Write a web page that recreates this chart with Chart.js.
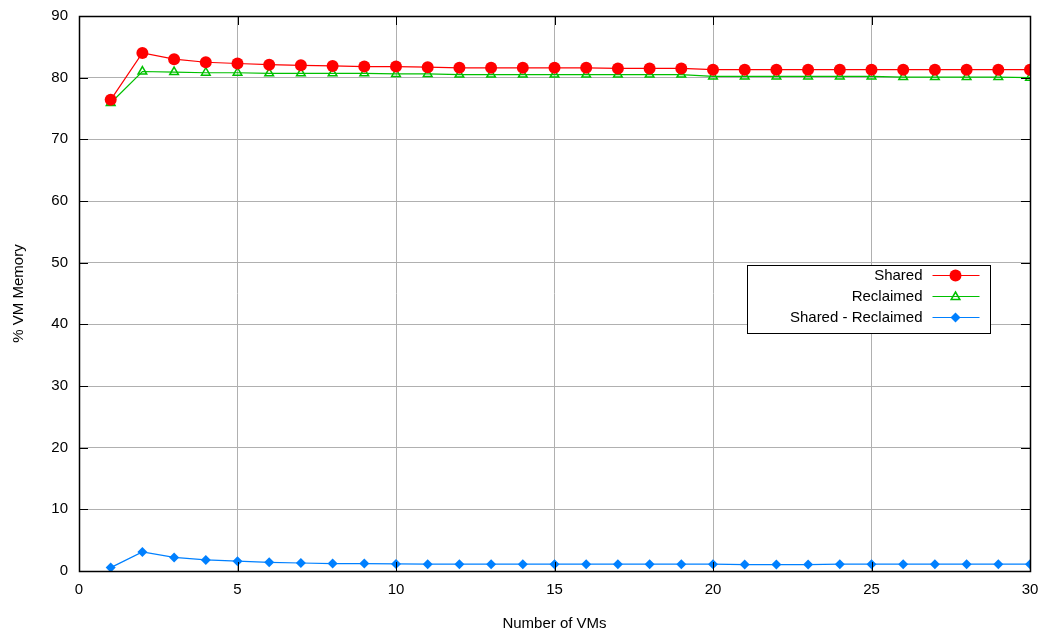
<!DOCTYPE html>
<html>
<head>
<meta charset="utf-8">
<script src="https://cdn.jsdelivr.net/npm/chart.js@4/dist/chart.umd.min.js"></script>
<style>
  html, body { margin: 0; padding: 0; background: #fff; }
  #wrap { width: 1046px; height: 633px; }
</style>
</head>
<body>
<div id="wrap"><canvas id="chart1"></canvas></div>
<script>
const vms = [1, 2, 3, 4, 5, 6, 7, 8, 9, 10, 11, 12, 13, 14, 15, 16, 17, 18, 19, 20, 21, 22, 23, 24, 25, 26, 27, 28, 29, 30];
const shared = [76.4, 84.0, 83.0, 82.5, 82.3, 82.1, 82.0, 81.9, 81.8, 81.8, 81.7, 81.6, 81.6, 81.6, 81.6, 81.6, 81.5, 81.5, 81.5, 81.3, 81.3, 81.3, 81.3, 81.3, 81.3, 81.3, 81.3, 81.3, 81.3, 81.3];
const reclaimed = [75.9, 81.0, 80.9, 80.8, 80.8, 80.7, 80.7, 80.7, 80.7, 80.6, 80.6, 80.5, 80.5, 80.5, 80.5, 80.5, 80.5, 80.5, 80.5, 80.2, 80.2, 80.2, 80.2, 80.2, 80.2, 80.1, 80.1, 80.1, 80.1, 80.0];
const diff = [0.55, 3.1, 2.2, 1.8, 1.6, 1.4, 1.3, 1.2, 1.2, 1.15, 1.1, 1.1, 1.1, 1.1, 1.1, 1.1, 1.1, 1.1, 1.1, 1.1, 1.05, 1.05, 1.05, 1.1, 1.1, 1.1, 1.1, 1.1, 1.1, 1.1];
const seriesNames = ["Shared", "Reclaimed", "Shared - Reclaimed"];
const seriesColors = ["#ff0000", "#00c000", "#0080ff"];
const xTicks = [0, 5, 10, 15, 20, 25, 30];
const yTicks = [0, 10, 20, 30, 40, 50, 60, 70, 80, 90];

const FONT = "'Liberation Sans', Arial, sans-serif";

function pts(ys) {
  return vms.map((x, i) => ({ x: x, y: ys[i] }));
}

// gnuplot-ish frame: black border + inward ticks on all sides
const framePlugin = {
  id: "frame",
  afterDatasetsDraw(chart) {
    const { ctx, chartArea: a, scales } = chart;
    ctx.save();
    ctx.strokeStyle = "#000";
    ctx.lineWidth = 1;
    ctx.beginPath();
    xTicks.forEach(v => {
      const px = Math.round(scales.x.getPixelForValue(v)) + 0.5;
      ctx.moveTo(px, a.bottom); ctx.lineTo(px, a.bottom - 9);
      ctx.moveTo(px, a.top); ctx.lineTo(px, a.top + 9);
    });
    yTicks.forEach(v => {
      const py = Math.round(scales.y.getPixelForValue(v)) + 0.5;
      ctx.moveTo(a.left, py); ctx.lineTo(a.left + 9, py);
      ctx.moveTo(a.right, py); ctx.lineTo(a.right - 9, py);
    });
    ctx.stroke();
    ctx.lineWidth = 1.5;
    ctx.strokeRect(Math.round(a.left) + 0.5, Math.round(a.top) + 0.5,
      Math.round(a.right - a.left), Math.round(a.bottom - a.top));
    ctx.restore();
  }
};

// gnuplot-style key, text right aligned, sample line + marker on the right
const keyPlugin = {
  id: "key",
  afterDraw(chart) {
    const { ctx } = chart;
    const bx = 747.5, by = 265.5, bw = 243, bh = 68;
    ctx.save();
    ctx.fillStyle = "#fff";
    ctx.fillRect(bx, by, bw, bh);
    ctx.strokeStyle = "#000";
    ctx.lineWidth = 1;
    ctx.strokeRect(bx, by, bw, bh);
    ctx.font = "15px " + FONT;
    ctx.textAlign = "right";
    ctx.textBaseline = "middle";
    chart.data.datasets.forEach((ds, i) => {
      const y = by + 10 + i * 21;
      ctx.fillStyle = "#000";
      ctx.fillText(ds.label, bx + 175, y);
      ctx.strokeStyle = ds.borderColor;
      ctx.lineWidth = 1.2;
      ctx.beginPath();
      ctx.moveTo(bx + 185, y);
      ctx.lineTo(bx + 232, y);
      ctx.stroke();
      const mx = bx + 208;
      const r = ds.pointRadius;
      ctx.fillStyle = ds.pointBackgroundColor;
      ctx.strokeStyle = ds.borderColor;
      ctx.lineWidth = ds.pointBorderWidth;
      ctx.beginPath();
      if (ds.pointStyle === "circle") {
        ctx.arc(mx, y, r, 0, Math.PI * 2);
        ctx.fill();
      } else if (ds.pointStyle === "rectRot") {
        ctx.moveTo(mx, y - r); ctx.lineTo(mx + r, y); ctx.lineTo(mx, y + r); ctx.lineTo(mx - r, y);
        ctx.closePath(); ctx.fill();
      } else {
        const h = r * 1.5;
        ctx.moveTo(mx, y - h * 0.6); ctx.lineTo(mx + r * 0.87, y + h * 0.4); ctx.lineTo(mx - r * 0.87, y + h * 0.4);
        ctx.closePath(); ctx.stroke();
      }
    });
    ctx.restore();
  }
};

const ctx = document.getElementById("chart1");
const chart = new Chart(ctx, {
  type: "line",
  data: {
    datasets: [
      {
        label: seriesNames[0], data: pts(shared),
        borderColor: seriesColors[0], backgroundColor: seriesColors[0],
        pointBackgroundColor: seriesColors[0], pointBorderColor: seriesColors[0],
        pointStyle: "circle", pointRadius: 6, pointBorderWidth: 0, borderWidth: 1.2
      },
      {
        label: seriesNames[1], data: pts(reclaimed),
        borderColor: seriesColors[1], backgroundColor: "rgba(0,0,0,0)",
        pointBackgroundColor: "rgba(0,0,0,0)", pointBorderColor: seriesColors[1],
        pointStyle: "triangle", pointRadius: 5, pointBorderWidth: 1.5, borderWidth: 1.2
      },
      {
        label: seriesNames[2], data: pts(diff),
        borderColor: seriesColors[2], backgroundColor: seriesColors[2],
        pointBackgroundColor: seriesColors[2], pointBorderColor: seriesColors[2],
        pointStyle: "rectRot", pointRadius: 5, pointBorderWidth: 0, borderWidth: 1.2
      }
    ]
  },
  options: {
    responsive: true,
    maintainAspectRatio: false,
    animation: false,
    layout: { padding: { left: 0, right: 16, top: 16, bottom: 0 } },
    plugins: {
      legend: { display: false },
      tooltip: { enabled: false }
    },
    scales: {
      x: {
        type: "linear",
        position: "bottom",
        min: 0, max: 30,
        afterBuildTicks: s => { s.ticks = xTicks.map(v => ({ value: v })); },
        afterFit: s => { s.height = 62; s.paddingLeft = 0; s.paddingRight = 0; },
        grid: { color: "#b0b0b0", lineWidth: 1, drawTicks: false },
        border: { display: false },
        ticks: { color: "#000", font: { family: FONT, size: 15 }, padding: 10, maxRotation: 0 },
        title: { display: true, text: "Number of VMs", color: "#000", font: { family: FONT, size: 15 }, padding: { top: 6, bottom: 0 } }
      },
      y: {
        min: 0, max: 90,
        afterBuildTicks: s => { s.ticks = yTicks.map(v => ({ value: v })); },
        afterFit: s => { s.width = 79; s.paddingTop = 0; s.paddingBottom = 0; },
        grid: { color: "#b0b0b0", lineWidth: 1, drawTicks: false },
        border: { display: false },
        ticks: { color: "#000", font: { family: FONT, size: 15 }, padding: 11 },
        title: { display: true, text: "% VM Memory", color: "#000", font: { family: FONT, size: 15 }, padding: { top: 10, bottom: 0 } }
      }
    }
  },
  plugins: [framePlugin, keyPlugin]
});
</script>
</body>
</html>
